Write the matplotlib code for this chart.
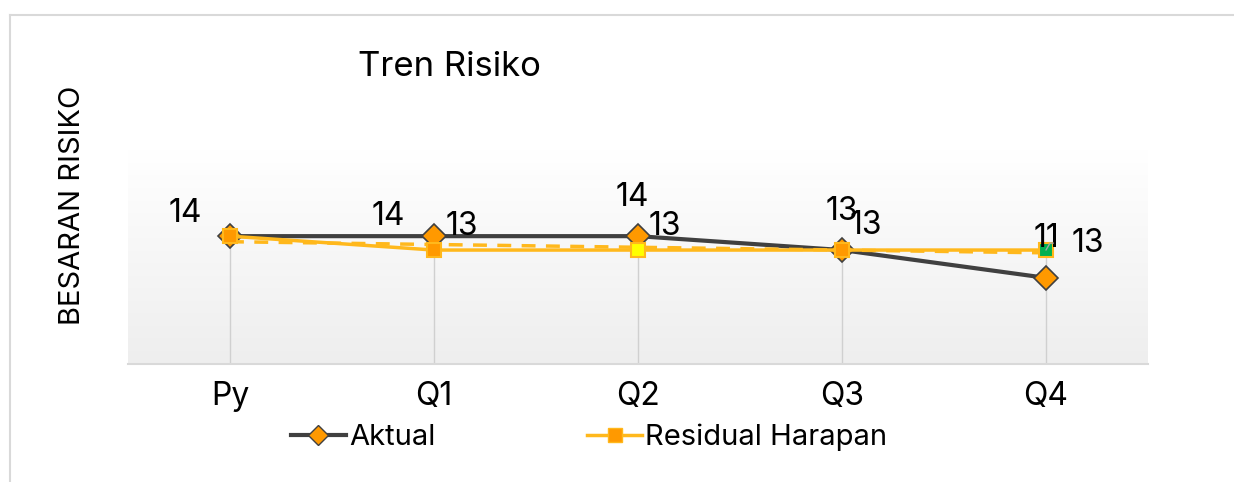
import numpy as np
import matplotlib
matplotlib.use("Agg")
import matplotlib.pyplot as plt
from matplotlib.lines import Line2D

categories = ["Py", "Q1", "Q2", "Q3", "Q4"]
aktual = [14, 14, 14, 13, 11]
residual = [14, 13, 13, 13, 13]
residual_fill = ["#FF9900", "#FF9900", "#FFFF00", "#FF9900", "#00B050"]
title = "Tren Risiko"
ylabel = "BESARAN RISIKO"

plt.rcParams['font.family'] = ['Inter', 'DejaVu Sans']

fig = plt.figure(figsize=(12.34, 4.82), dpi=100)
W, H = 1234, 482
# outer chart border
fig.add_artist(Line2D([10/W, 10/W], [0, 1-15/H], color="#d9d9d9", lw=1.5, transform=fig.transFigure))
fig.add_artist(Line2D([10/W, 1], [1-15/H, 1-15/H], color="#d9d9d9", lw=1.5, transform=fig.transFigure))

ax = fig.add_axes([128/W, 1-364/H, 1020/W, 214/H])
x = np.arange(len(categories))
ax.set_xlim(-0.5, len(categories)-0.5)
ax.set_ylim(4.8, 20.2)

# gradient background: white at top, light grey at bottom
grad = np.linspace(0, 1, 256).reshape(-1, 1)
ax.imshow(grad, extent=[-0.5, len(categories)-0.5, 4.8, 20.2], aspect='auto',
          cmap=matplotlib.colors.LinearSegmentedColormap.from_list("g", ["#ffffff", "#eeeeee"]),
          vmin=0, vmax=1, origin='upper', zorder=0)

# drop lines
ymin = ax.get_ylim()[0]
for xi, a, r in zip(x, aktual, residual):
    ax.plot([xi, xi], [ymin, max(a, r)], color="#d0d0d0", lw=1, zorder=1)

ax.plot(x, aktual, color="#404040", lw=3, marker="D", markersize=12,
        markerfacecolor="#FF9900", markeredgecolor="#404040", markeredgewidth=1.2, zorder=3)

# trendline of residual series
coef = np.polyfit(x, residual, 1)
ax.plot(x, np.polyval(coef, x), color="#FFB81C", lw=2.5, ls=(0, (4, 3)), zorder=3.5)

ax.plot(x, residual, color="#FFB81C", lw=2.5, zorder=4)
for xi, r, fc in zip(x, residual, residual_fill):
    ax.plot(xi, r, marker="s", markersize=10, markerfacecolor=fc,
            markeredgecolor="#FFB81C", markeredgewidth=1.5, zorder=5, ls="none")

# data labels (offsets in points)
fs = 23
ak_off = [(-32, 16), (-33, 14), (-4, 28), (0, 28), (0, 28)]
for xi, a, off in zip(x, aktual, ak_off):
    ax.annotate(str(a), (xi, a), xytext=off, textcoords="offset points",
                ha="center", va="center", fontsize=fs, color="#000000", zorder=6)
rs_off = [(20, 17), (19, 17), (17, 18)]
for xi, r, off in zip(x[1:4], residual[1:4], rs_off):
    ax.annotate(str(r), (xi, r), xytext=off, textcoords="offset points",
                ha="center", va="center", fontsize=fs, color="#000000", zorder=6)
ax.annotate(str(residual[4]), (x[4], residual[4]), xytext=(30, 5), textcoords="offset points",
            ha="center", va="center", fontsize=fs, color="#000000", zorder=6,
            arrowprops=dict(arrowstyle="-", color="#a6a6a6", lw=1,
                            shrinkA=11, shrinkB=0,
                            connectionstyle="angle,angleA=0,angleB=60,rad=0"))

ax.set_xticks(x)
ax.set_xticklabels(categories, fontsize=23)
ax.set_yticks([])
ax.tick_params(axis='x', length=0, pad=12)
for s in ["top", "right", "left"]:
    ax.spines[s].set_visible(False)
ax.spines["bottom"].set_color("#d9d9d9")
ax.spines["bottom"].set_linewidth(1.5)

fig.text(449/W, 1-67/H, title, ha="center", va="center", fontsize=25, color="#000000")
fig.text(73/W, 1-205/H, ylabel, ha="center", va="center", rotation=90, fontsize=21, color="#000000")

h1 = Line2D([], [], color="#404040", lw=3, marker="D", markersize=10,
            markerfacecolor="#FF9900", markeredgecolor="#404040")
h2 = Line2D([], [], color="#FFB81C", lw=2.5, marker="s", markersize=10,
            markerfacecolor="#FF9900", markeredgecolor="#FFB81C")
fig.legend([h1, h2], ["Aktual", "Residual Harapan"], loc="center", bbox_to_anchor=(589/W, 1-437/H),
           ncol=2, frameon=False, fontsize=21, handlelength=1.9, handletextpad=0.1,
           columnspacing=5.2)

fig.savefig("out.png", dpi=100)
